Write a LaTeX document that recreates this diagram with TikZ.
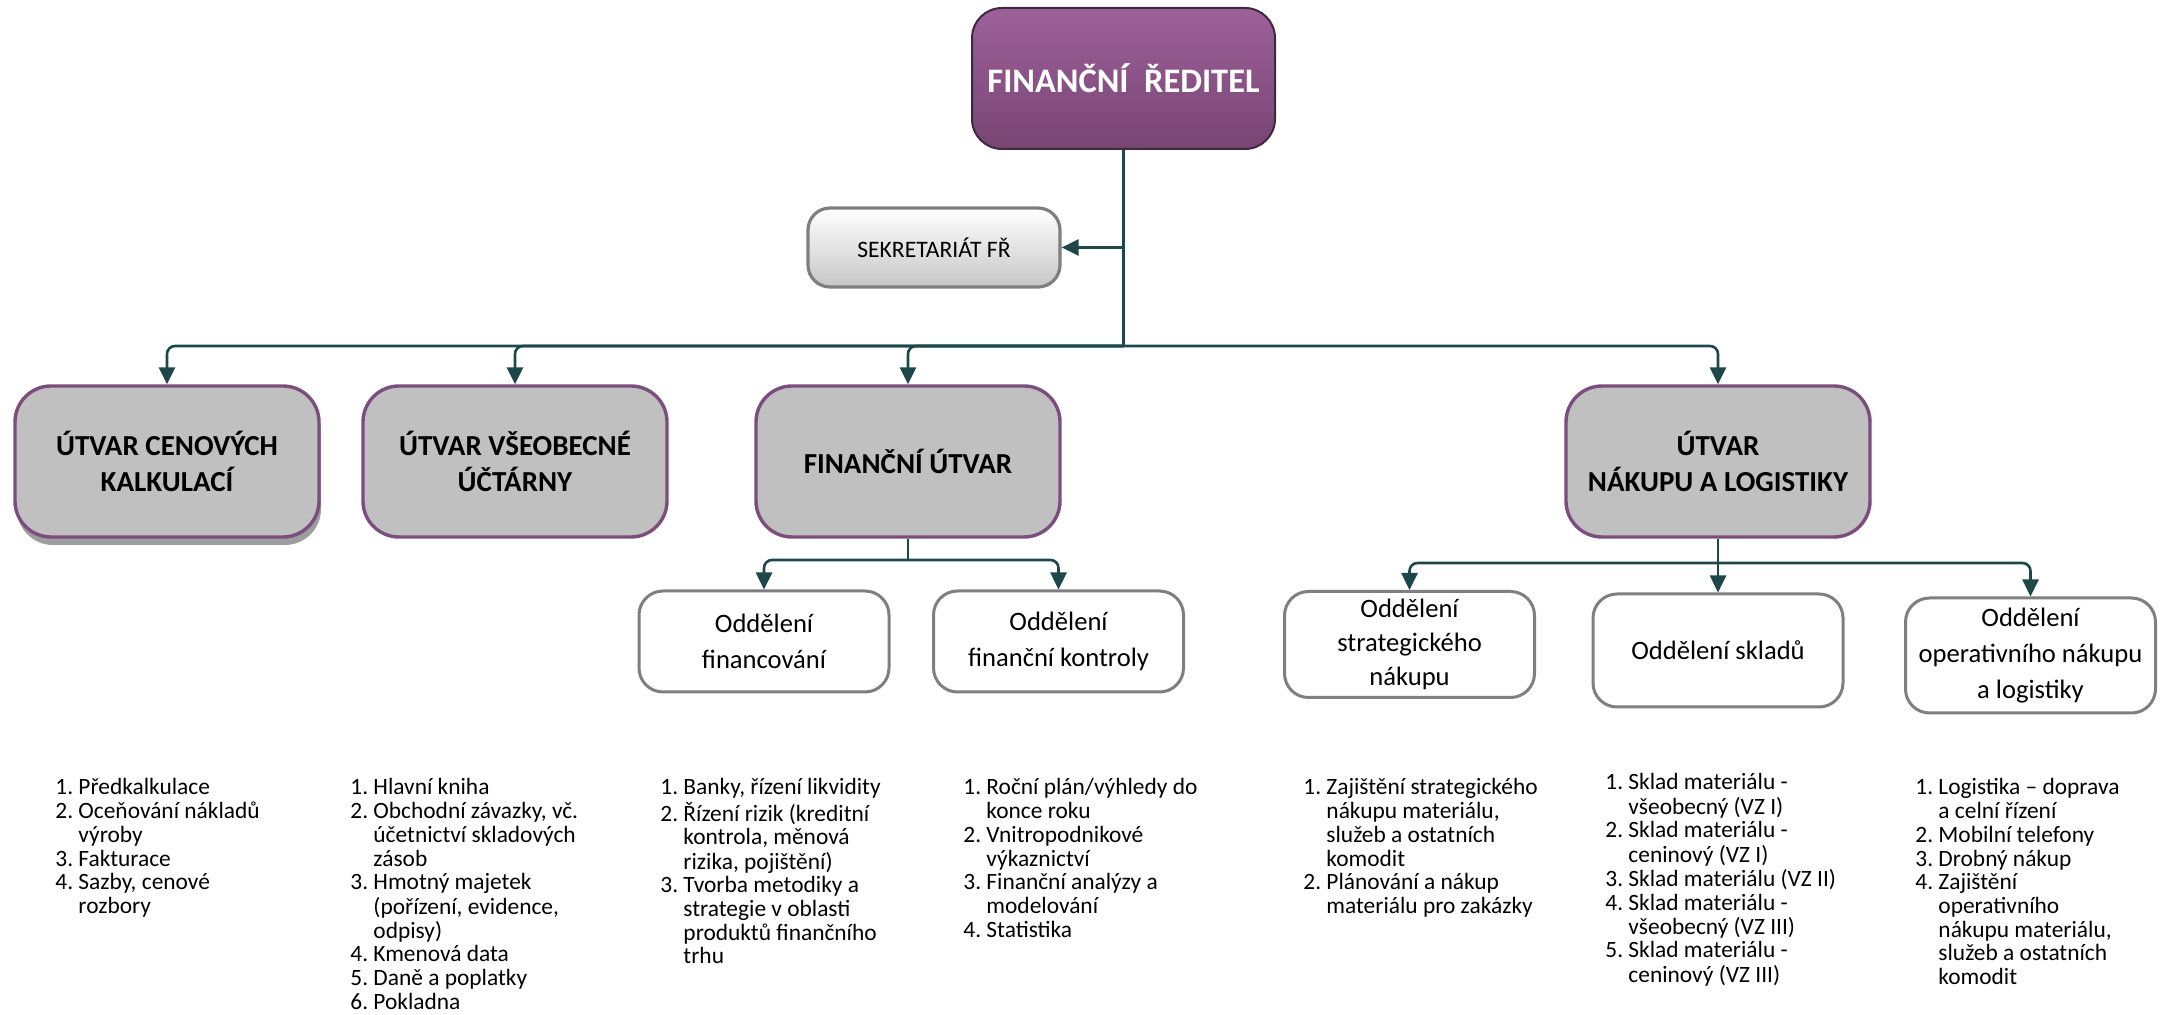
\documentclass[tikz,border=0pt]{standalone}
\usepackage{fontspec}
\setmainfont{Carlito}
\usepackage{xcolor}
\usetikzlibrary{arrows.meta,calc,shadows,positioning}
\definecolor{linkc}{HTML}{1D4748}
\definecolor{headtop}{HTML}{9D619A}
\definecolor{headbot}{HTML}{784574}
\definecolor{headline}{HTML}{3E2A3F}
\definecolor{unitline}{HTML}{7B4E7E}
\definecolor{unitfill}{HTML}{C0C0C0}
\definecolor{deptline}{HTML}{7F7F7F}

\begin{document}
\begin{tikzpicture}[x=0.5pt,y=-0.5pt,
  head/.style={draw=headline,line width=1pt,rounded corners=15pt,top color=headtop,bottom color=headbot,minimum width=151.5pt,minimum height=70.5pt,text=white,font=\fontsize{17.2}{20}\selectfont\bfseries},
  sekr/.style={draw=deptline,line width=1.6pt,rounded corners=11pt,top color=white,bottom color=black!22,minimum width=126pt,minimum height=39.5pt,font=\fontsize{11.8}{14}\selectfont},
  unit/.style={draw=unitline,line width=1.7pt,rounded corners=18pt,fill=unitfill,minimum width=152pt,minimum height=75.5pt,align=center,font=\fontsize{14.5}{18}\selectfont\bfseries},
  dept/.style={draw=deptline,line width=1.5pt,rounded corners=12pt,fill=white,minimum width=125pt,inner sep=2pt,align=center,font=\fontsize{13.3}{18}\selectfont},
  link/.style={draw=linkc,line width=1.3pt,rounded corners=4pt},
  arr/.style={link,-{Triangle[length=8.5pt,width=8pt]}},
  lst/.style={anchor=north west,inner sep=0pt,font=\fontsize{11.7}{11.85}\selectfont}]
\useasboundingbox (0,0) rectangle (2170,1015);

\node[head] (ceo) at (1123.5,78.5) {FINANČNÍ\ \ ŘEDITEL};
\node[sekr] (sek) at (934,247.5) {SEKRETARIÁT FŘ};

\node[unit,drop shadow={shadow xshift=1pt,shadow yshift=-4pt,opacity=0.55,fill=black!70}] (calc) at (167,461.5) {ÚTVAR CENOVÝCH\\KALKULACÍ};
\node[unit] (ucet) at (515,461.5) {ÚTVAR VŠEOBECNÉ\\ÚČTÁRNY};
\node[unit] (fin) at (908,461.5) {FINANČNÍ ÚTVAR};
\node[unit] (nak) at (1718,461.5) {ÚTVAR\\NÁKUPU A LOGISTIKY};

\node[dept,minimum height=50.5pt] (fin1) at (764,641.5) {Oddělení\\financování};
\node[dept,minimum height=50.5pt] (fin2) at (1058.5,641.5) {Oddělení\\finanční kontroly};
\node[dept,minimum height=53pt,font=\fontsize{13.3}{17}\selectfont] (nak1) at (1409.5,644.5) {Oddělení\\strategického\\nákupu};
\node[dept,minimum height=56.5pt] (nak2) at (1718,650.5) {Oddělení skladů};
\node[dept,minimum height=57.5pt] (nak3) at (2030.5,655.5) {Oddělení\\operativního nákupu\\a logistiky};

\coordinate (bus) at (1123.5,346);
\draw[link] (ceo.south) -- (bus);
\draw[arr] (ceo.south |- sek.east) -- (sek.east);
\foreach \n in {calc,ucet,fin,nak} \draw[arr] (bus) -| (\n.north);

\coordinate (finbus) at (908,560);
\draw[link] (fin.south) -- (finbus);
\foreach \n in {fin1,fin2} \draw[arr] (finbus) -| (\n.north);

\coordinate (nakbus) at (1718,563);
\draw[link] (nak.south) -- (nakbus);
\draw[arr] (nakbus) -- (nak2.north);
\foreach \n in {nak1,nak3} \draw[arr] (nakbus) -| (\n.north);

\node[lst] (l1) at (55,778) {\begin{tabular}{@{}l@{\ }l@{}}
1. & Předkalkulace\\
2. & Oceňování nákladů\\
 & výroby\\
3. & Fakturace\\
4. & Sazby, cenové\\
 & rozbory
\end{tabular}};
\node[lst] (l2) at (350,778) {\begin{tabular}{@{}l@{\ }l@{}}
1. & Hlavní kniha\\
2. & Obchodní závazky, vč.\\
 & účetnictví skladových\\
 & zásob\\
3. & Hmotný majetek\\
 & (pořízení, evidence,\\
 & odpisy)\\
4. & Kmenová data\\
5. & Daně a poplatky\\
6. & Pokladna
\end{tabular}};
\node[lst] (l3) at (660,778) {\begin{tabular}{@{}l@{\ }l@{}}
1. & Banky, řízení likvidity\\
2. & Řízení rizik (kreditní\\
 & kontrola, měnová\\
 & rizika, pojištění)\\
3. & Tvorba metodiky a\\
 & strategie v oblasti\\
 & produktů finančního\\
 & trhu
\end{tabular}};
\node[lst] (l4) at (963,778) {\begin{tabular}{@{}l@{\ }l@{}}
1. & Roční plán/výhledy do\\
 & konce roku\\
2. & Vnitropodnikové\\
 & výkaznictví\\
3. & Finanční analýzy a\\
 & modelování\\
4. & Statistika
\end{tabular}};
\node[lst] (l5) at (1303,778) {\begin{tabular}{@{}l@{\ }l@{}}
1. & Zajištění strategického\\
 & nákupu materiálu,\\
 & služeb a ostatních\\
 & komodit\\
2. & Plánování a nákup\\
 & materiálu pro zakázky
\end{tabular}};
\node[lst] (l6) at (1605,773) {\begin{tabular}{@{}l@{\ }l@{}}
1. & Sklad materiálu -\\
 & všeobecný (VZ I)\\
2. & Sklad materiálu -\\
 & ceninový (VZ I)\\
3. & Sklad materiálu (VZ II)\\
4. & Sklad materiálu -\\
 & všeobecný (VZ III)\\
5. & Sklad materiálu -\\
 & ceninový (VZ III)
\end{tabular}};
\node[lst] (l7) at (1915,778) {\begin{tabular}{@{}l@{\ }l@{}}
1. & Logistika – doprava\\
 & a celní řízení\\
2. & Mobilní telefony\\
3. & Drobný nákup\\
4. & Zajištění\\
 & operativního\\
 & nákupu materiálu,\\
 & služeb a ostatních\\
 & komodit
\end{tabular}};
\end{tikzpicture}
\end{document}
